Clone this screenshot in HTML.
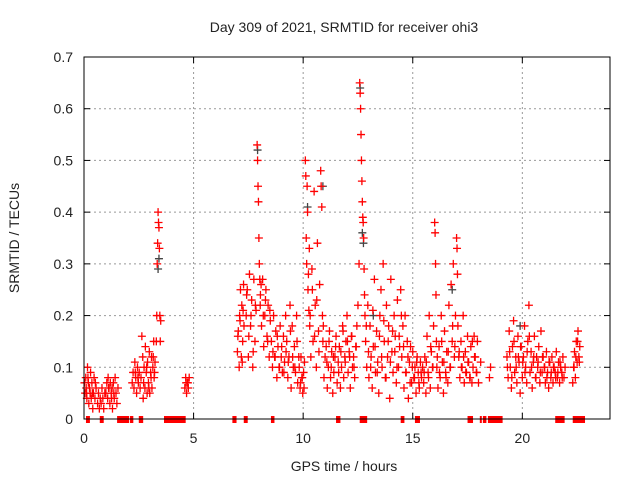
<!DOCTYPE html>
<html><head><meta charset="utf-8"><style>
body{margin:0;background:#fff;}
svg{display:block;font-family:"Liberation Sans",sans-serif;}
</style></head><body>
<svg id="chart" width="640" height="480" xmlns="http://www.w3.org/2000/svg">
<text x="344" y="32" font-size="14" text-anchor="middle" fill="#222">Day 309 of 2021, SRMTID for receiver ohi3</text>
<text x="344" y="471" font-size="14" text-anchor="middle" fill="#222">GPS time / hours</text>
<text x="19" y="238" font-size="14" text-anchor="middle" fill="#222" transform="rotate(-90 19 238)">SRMTID / TECUs</text>
<g id="grid"></g>
<g id="ticks"></g>
<g id="zeros"></g>
<g id="gray"></g>
<g id="red"></g>
<rect x="84" y="57" width="526" height="362" fill="none" stroke="#000" stroke-width="1"/>
</svg>
<script>
const xTicks=[0,5,10,15,20];
const yTicks=[0,0.1,0.2,0.3,0.4,0.5,0.6,0.7];
const yTickLabels=["0","0.1","0.2","0.3","0.4","0.5","0.6","0.7"];
const zeroIntervals=[[0.09,0.27],[0.72,0.9],[1.51,2.06],[2.1,2.25],[2.5,2.7],[3.65,4.64],[6.77,6.96],[7.29,7.47],[8.53,8.69],[11.5,11.7],[12.58,12.92],[14.45,14.62],[15.1,15.33],[17.5,17.75],[18.06,18.14],[18.2,18.36],[18.43,19.1],[21.5,21.93],[22.3,22.86]];
const hours=[
0.02,0.05,0.08,0.1,0.13,0.16,0.2,0.22,0.25,0.28,0.3,0.33,0.36,0.4,0.43,0.46,0.5,0.55,
0.62,0.66,0.7,0.74,0.78,0.82,0.86,0.9,0.95,
1.0,1.04,1.08,1.1,1.14,1.18,1.2,1.24,1.28,1.3,1.34,1.38,1.42,1.46,1.5,1.55,
2.2,2.24,2.28,2.32,2.36,2.4,2.44,2.48,2.52,2.56,
2.6,2.64,2.68,2.7,2.74,2.78,2.8,2.84,2.88,2.9,2.94,2.98,3.0,3.04,3.08,3.1,3.14,3.18,3.2,3.24,
3.3,3.32,3.34,3.36,3.38,3.4,3.42,3.44,3.46,3.48,3.5,
4.6,4.64,4.68,4.72,4.76,4.8,
7.0,7.04,7.08,7.1,7.14,7.18,7.2,7.24,7.28,7.3,
7.4,7.45,7.5,7.55,7.6,7.65,7.7,7.75,7.8,7.85,7.9,7.92,7.94,7.96,7.98,8.0,8.02,8.04,
8.05,8.1,8.15,8.2,8.25,8.3,8.35,8.4,8.45,8.5,
8.55,8.6,8.65,8.7,8.75,8.8,8.85,8.9,8.95,9.0,9.05,9.1,9.15,9.2,
9.25,9.3,9.35,9.4,9.45,9.5,9.55,9.6,9.65,9.7,9.75,9.8,
9.82,9.86,9.9,9.94,9.98,10.02,10.06,
10.1,10.12,10.14,10.16,10.18,10.2,10.22,10.24,10.26,10.28,
10.3,10.35,10.4,10.45,10.5,10.55,10.6,10.65,10.7,10.75,10.8,10.82,10.85,10.88,10.9,10.95,11.0,
11.05,11.1,11.15,11.2,11.25,11.3,11.35,11.4,11.45,11.5,11.55,11.6,11.65,11.7,11.75,11.8,11.85,11.9,11.95,12.0,12.05,12.1,12.15,12.2,12.25,12.3,12.35,12.4,12.45,
12.5,12.55,12.58,12.6,12.62,12.64,12.66,12.68,12.7,12.72,12.74,12.76,12.78,12.8,12.82,
12.85,12.9,12.95,13.0,13.05,13.1,13.15,13.2,13.25,13.3,13.35,13.4,13.45,
13.5,13.55,13.6,13.65,13.7,13.75,13.8,13.85,13.9,13.95,14.0,14.05,14.1,14.15,14.2,14.25,14.3,14.35,14.4,14.45,
14.5,14.55,14.6,14.65,14.7,14.75,14.8,14.85,14.9,14.95,15.0,15.05,15.1,15.15,15.2,15.25,15.3,15.35,15.4,15.45,
15.5,15.55,15.6,15.65,15.7,15.75,15.8,15.85,15.9,15.95,16.0,16.02,16.04,16.06,16.08,
16.1,16.15,16.2,16.25,16.3,16.35,16.4,16.45,16.5,16.55,16.6,16.65,16.7,16.75,16.8,16.85,16.9,16.95,17.0,17.02,17.04,17.06,
17.1,17.15,17.2,17.25,17.3,17.35,17.4,17.45,17.5,17.55,17.6,17.65,17.7,17.75,17.8,17.85,17.9,17.95,18.0,18.1,18.5,18.55,
19.3,19.35,19.4,19.45,19.5,19.55,19.6,19.65,19.7,19.75,19.8,19.85,19.9,19.95,
20.0,20.05,20.1,20.15,20.2,20.25,20.3,20.35,20.4,20.45,20.5,20.55,20.6,20.65,20.7,20.75,20.8,20.85,20.9,20.95,
21.0,21.05,21.1,21.15,21.2,21.25,21.3,21.35,21.4,21.45,21.5,21.55,21.6,21.65,21.7,21.75,21.8,21.85,21.9,21.95,
22.3,22.34,22.38,22.42,22.46,22.5,22.54,22.58,22.62
];
const tec=[
0.07,0.05,0.08,0.06,0.04,0.1,0.07,0.03,0.06,0.05,0.09,0.04,0.07,0.02,0.05,0.08,0.04,0.06,
0.03,0.05,0.02,0.04,0.03,0.06,0.04,0.02,0.05,
0.05,0.07,0.04,0.08,0.06,0.03,0.07,0.05,0.06,0.02,0.07,0.04,0.08,0.05,0.03,0.06,
0.07,0.09,0.06,0.11,0.08,0.05,0.1,0.07,0.09,0.06,
0.08,0.16,0.12,0.04,0.1,0.06,0.14,0.09,0.05,0.11,0.07,0.13,0.05,0.09,0.12,0.06,0.1,0.15,0.08,0.11,
0.15,0.2,0.3,0.34,0.4,0.38,0.37,0.33,0.2,0.15,0.19,
0.06,0.08,0.05,0.07,0.06,0.08,
0.13,0.17,0.1,0.2,0.25,0.12,0.22,0.15,0.26,0.18,
0.2,0.25,0.12,0.28,0.18,0.23,0.1,0.27,0.15,0.21,0.53,0.5,0.45,0.42,0.35,0.3,0.27,0.22,
0.24,0.18,0.27,0.14,0.2,0.25,0.16,0.22,0.12,0.19,
0.15,0.1,0.2,0.12,0.17,0.08,0.14,0.1,0.18,0.12,0.09,0.16,0.11,0.2,
0.15,0.08,0.12,0.22,0.06,0.18,0.1,0.14,0.09,0.2,0.07,0.12,
0.1,0.06,0.12,0.08,0.05,0.09,0.11,
0.5,0.47,0.35,0.3,0.45,0.4,0.25,0.28,0.21,0.33,
0.18,0.12,0.29,0.15,0.44,0.22,0.1,0.34,0.17,0.26,0.48,0.45,0.41,0.2,0.15,0.08,0.12,
0.14,0.06,0.1,0.17,0.08,0.13,0.05,0.09,0.12,0.16,0.07,0.11,0.14,0.06,0.1,0.18,0.08,0.12,0.15,0.2,0.09,0.13,0.06,0.16,0.1,0.12,0.08,0.14,0.18,
0.22,0.3,0.65,0.63,0.6,0.55,0.5,0.46,0.42,0.39,0.38,0.35,0.29,0.24,0.2,
0.15,0.1,0.22,0.08,0.18,0.12,0.06,0.14,0.27,0.09,0.17,0.11,0.05,
0.2,0.25,0.1,0.3,0.15,0.08,0.22,0.12,0.18,0.04,0.27,0.13,0.09,0.2,0.16,0.07,0.23,0.1,0.14,0.25,
0.12,0.18,0.06,0.2,0.09,0.15,0.04,0.11,0.14,0.07,0.13,0.08,0.1,0.05,0.12,0.09,0.06,0.11,0.08,0.1,
0.07,0.12,0.05,0.16,0.09,0.2,0.06,0.13,0.1,0.18,0.38,0.36,0.3,0.24,0.15,
0.1,0.06,0.14,0.08,0.2,0.11,0.05,0.17,0.09,0.13,0.07,0.22,0.1,0.26,0.15,0.3,0.12,0.2,0.35,0.33,0.28,0.18,
0.12,0.08,0.15,0.1,0.2,0.07,0.13,0.09,0.16,0.11,0.08,0.14,0.07,0.1,0.16,0.12,0.09,0.15,0.07,0.11,0.08,0.1,
0.12,0.08,0.17,0.1,0.06,0.14,0.19,0.09,0.12,0.07,0.16,0.11,0.05,0.14,
0.08,0.12,0.18,0.1,0.07,0.15,0.22,0.09,0.13,0.06,0.11,0.16,0.08,0.12,0.1,0.14,0.07,0.17,0.09,0.12,
0.1,0.07,0.13,0.09,0.06,0.11,0.08,0.12,0.07,0.1,0.09,0.13,0.08,0.11,0.07,0.1,0.09,0.12,0.08,0.1,
0.07,0.1,0.13,0.08,0.15,0.11,0.17,0.12,0.14
];
const hours2=[
0.12,0.18,0.38,0.52,1.12,1.26,1.36,2.34,2.46,2.72,2.86,2.96,3.06,3.16,3.22,4.66,4.74,
7.02,7.12,7.22,7.26,7.42,7.52,7.62,7.72,7.82,8.08,8.18,8.28,8.38,8.48,8.62,8.72,8.82,8.92,9.02,9.12,9.22,9.32,9.42,9.52,9.62,9.72,9.88,9.96,10.04,
10.32,10.42,10.52,10.62,10.72,10.92,11.08,11.18,11.28,11.38,11.48,11.62,11.72,11.82,11.92,12.02,12.12,12.22,12.32,12.42,
12.88,12.98,13.08,13.18,13.28,13.38,13.48,13.58,13.68,13.78,13.88,13.98,14.08,14.18,14.28,14.38,14.48,14.58,14.68,14.78,14.88,14.98,15.08,15.18,15.28,15.38,
15.52,15.62,15.72,15.82,15.92,16.12,16.22,16.32,16.42,16.52,16.62,16.72,16.82,16.92,17.12,17.22,17.32,17.42,17.52,17.62,17.72,17.82,17.92,
19.32,19.42,19.52,19.62,19.72,19.82,19.92,20.02,20.12,20.22,20.32,20.42,20.52,20.62,20.72,20.82,20.92,21.02,21.12,21.22,21.32,21.42,21.52,21.62,21.72,21.82,22.36,22.44,22.52,22.6
];
const tec2=[
0.05,0.08,0.05,0.07,0.06,0.04,0.05,0.09,0.08,0.07,0.1,0.06,0.08,0.12,0.09,0.07,0.07,
0.16,0.19,0.11,0.21,0.24,0.16,0.2,0.13,0.22,0.26,0.2,0.23,0.15,0.21,0.13,0.12,0.16,0.1,0.14,0.09,0.13,0.11,0.17,0.12,0.1,0.15,0.07,0.08,0.06,
0.2,0.25,0.16,0.23,0.13,0.18,0.11,0.15,0.1,0.12,0.14,0.09,0.13,0.17,0.11,0.15,0.12,0.16,0.1,0.14,
0.18,0.13,0.1,0.21,0.14,0.09,0.16,0.12,0.19,0.08,0.15,0.11,0.17,0.13,0.1,0.16,0.2,0.14,0.09,0.12,0.07,0.1,0.08,0.11,0.07,0.09,
0.09,0.11,0.08,0.14,0.1,0.12,0.09,0.15,0.11,0.08,0.13,0.1,0.18,0.14,0.13,0.1,0.12,0.09,0.11,0.08,0.15,0.12,0.09,
0.1,0.13,0.08,0.15,0.1,0.12,0.14,0.11,0.09,0.13,0.16,0.1,0.12,0.08,0.11,0.09,0.12,0.1,0.08,0.11,0.09,0.1,0.08,0.09,0.11,0.08,0.1,0.12,0.15,0.11
];
const grayHours=[3.38,3.42,7.92,10.2,10.9,12.6,12.7,12.75,13.2,16.8,19.9];
const grayTec=[0.29,0.31,0.52,0.41,0.45,0.64,0.36,0.34,0.2,0.25,0.18];

const X0=84,X1=610,Y0=419,Y1=57,XMAX=24,YMAX=0.7;
const xs=h=>X0+(X1-X0)*h/XMAX;
const ys=v=>Y0-(Y0-Y1)*v/YMAX;
const NS="http://www.w3.org/2000/svg";
function mk(tag,attrs,parent){const e=document.createElementNS(NS,tag);for(const k in attrs)e.setAttribute(k,attrs[k]);parent.appendChild(e);return e;}
const grid=document.getElementById('grid'),ticks=document.getElementById('ticks');
yTicks.forEach((v,i)=>{
  const y=ys(v);
  if(v>0&&v<YMAX){const g=mk('line',{x1:X0,x2:X1,y1:y,y2:y,stroke:'#999','stroke-dasharray':'2,3'},grid);
  
  }
  const t=mk('text',{x:73,y:y+5,'font-size':14,'text-anchor':'end',fill:'#222'},ticks);
  t.textContent=yTickLabels[i];
  
  
  mk('line',{x1:X0,x2:X0+6,y1:y,y2:y,stroke:'#000'},ticks);
  mk('line',{x1:X1,x2:X1-6,y1:y,y2:y,stroke:'#000'},ticks);
});
xTicks.forEach(h=>{
  const x=xs(h);
  if(h>0){const g=mk('line',{x1:x,x2:x,y1:Y0,y2:Y1,stroke:'#999','stroke-dasharray':'2,3'},grid);
  
  }
  const t=mk('text',{x:x,y:443,'font-size':14,'text-anchor':'middle',fill:'#222'},ticks);
  t.textContent=String(h);
  
  
  mk('line',{x1:x,x2:x,y1:Y0,y2:Y0-6,stroke:'#000'},ticks);
  mk('line',{x1:x,x2:x,y1:Y1,y2:Y1+6,stroke:'#000'},ticks);
});
const zg=document.getElementById('zeros');
zeroIntervals.forEach(iv=>{
  const r=mk('rect',{x:xs(iv[0]),y:ys(0)-3,width:Math.max(2,xs(iv[1])-xs(iv[0])),height:7,fill:'#f00'},zg);
  
  
});
function plus(g,h,v,c){
  const x=xs(h),y=ys(v);
  return mk('path',{d:`M${x-4} ${y}H${x+4}M${x} ${y-4}V${y+4}`,stroke:c,'stroke-width':1.3,fill:'none'},g);
}
const gg=document.getElementById('gray');
grayHours.forEach((h,i)=>{const p=plus(gg,h,grayTec[i],'#444');
  
  });
const rg=document.getElementById('red');
hours.forEach((h,i)=>{if(tec[i]===undefined)return;const p=plus(rg,h,tec[i],'#f00');
  
  });
hours2.forEach((h,i)=>{if(tec2[i]===undefined)return;const p=plus(rg,h,tec2[i],'#f00');
  
  });
</script>
</body></html>
